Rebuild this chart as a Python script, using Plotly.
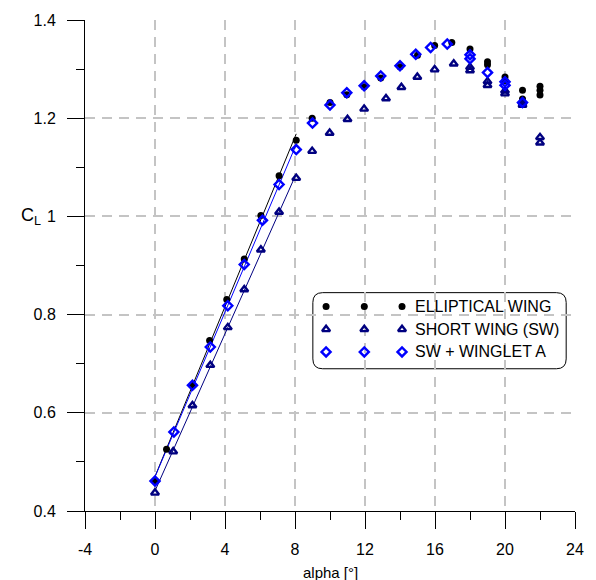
import numpy as np
import plotly.graph_objects as go

# Lift coefficient vs angle of attack, three wing configurations
ell_alpha = [0, 0.66, 2.14, 3.12, 4.1, 5.1, 6.05, 7.09, 8.07, 8.98, 10.0, 10.96, 11.95,
             12.9, 14.0, 15.0, 15.98, 16.96, 18.0, 19.0, 19.0, 20.0, 20.0, 21.0, 21.0,
             22.0, 22.0, 22.0]
ell_cl = [0.461, 0.526, 0.656, 0.747, 0.831, 0.913, 1.002, 1.083, 1.155, 1.200, 1.232,
          1.248, 1.264, 1.282, 1.305, 1.328, 1.348, 1.354, 1.341, 1.315, 1.309, 1.284,
          1.277, 1.257, 1.239, 1.265, 1.257, 1.247]

sw_alpha = [0, 1.04, 2.14, 3.16, 4.16, 5.1, 6.05, 7.09, 8.07, 8.98, 9.98, 11.0, 11.95,
            13.2, 14.08, 14.99, 15.98, 17.07, 18.0, 18.0, 19.0, 19.0, 20.0, 20.0, 21.0,
            21.0, 22.0, 22.0]
sw_cl = [0.437, 0.521, 0.615, 0.697, 0.774, 0.851, 0.932, 1.009, 1.078, 1.133, 1.170,
         1.198, 1.219, 1.240, 1.263, 1.284, 1.299, 1.311, 1.304, 1.297, 1.275, 1.267,
         1.256, 1.250, 1.232, 1.227, 1.161, 1.150]

wl_alpha = [0, 1.08, 2.14, 3.16, 4.16, 5.1, 6.14, 7.09, 8.07, 9.0, 10.0, 10.96, 11.95,
            12.9, 14.0, 14.9, 15.75, 16.7, 18.0, 18.0, 19.0, 20.0, 20.0, 21.0]
wl_cl = [0.461, 0.561, 0.656, 0.734, 0.818, 0.902, 0.992, 1.065, 1.136, 1.190, 1.227,
         1.252, 1.266, 1.286, 1.307, 1.330, 1.344, 1.351, 1.329, 1.321, 1.293, 1.274,
         1.267, 1.232]

series_names = ["ELLIPTICAL WING", "SHORT WING (SW)", "SW + WINGLET A"]
x_ticks = [-4, 0, 4, 8, 12, 16, 20, 24]
x_tick_text = ["-4", "0", "4", "8", "12", "16", "20", "24"]
y_ticks = [0.4, 0.6, 0.8, 1.0, 1.2, 1.4]
y_tick_text = ["0.4", "0.6", "0.8", "1", "1.2", "1.4"]

FONT = "Liberation Sans, Arial, sans-serif"
NAVY = "#000080"
BLUE = "#0000FF"

styles = [
    dict(color="black", symbol="circle", size=7, line=dict(width=0, color="black")),
    dict(color=NAVY, symbol="triangle-up-open", size=7, line=dict(width=2.4, color=NAVY)),
    dict(color=BLUE, symbol="diamond-open", size=7, line=dict(width=2.4, color=BLUE)),
]
data = [(ell_alpha, ell_cl), (sw_alpha, sw_cl), (wl_alpha, wl_cl)]

fig = go.Figure()

# linear fit through the attached-flow range
for (a, c), st in zip(data, styles):
    a = np.array(a)
    c = np.array(c)
    m = a <= 8.1
    k, b = np.polyfit(a[m], c[m], 1)
    xs = np.array([0.0, a[m].max()])
    fig.add_trace(go.Scatter(x=xs, y=k * xs + b, mode="lines",
                             line=dict(color=st["color"], width=1),
                             showlegend=False, hoverinfo="skip"))

for (a, c), st, name in zip(data, styles, series_names):
    fig.add_trace(go.Scatter(x=a, y=c, mode="markers", name=name, marker=st,
                             showlegend=False, cliponaxis=False))

# legend drawn on a unit overlay axis
leg_x = [0.492, 0.570, 0.647]
leg_y = [0.4165, 0.370, 0.324]
for st, yy, name in zip(styles, leg_y, series_names):
    fig.add_trace(go.Scatter(x=leg_x, y=[yy] * 3, mode="markers", marker=st,
                             xaxis="x2", yaxis="y2", showlegend=False,
                             hoverinfo="skip", cliponaxis=False))
    fig.add_annotation(x=0.670, y=yy, xref="paper", yref="paper", text=name,
                       showarrow=False, xanchor="left", yanchor="middle",
                       font=dict(family=FONT, size=16, color="black"))

x0, x1, y0, y1 = 0.465, 0.982, 0.2897, 0.4447
rx, ry = 0.02, 0.02
path = (f"M {x0+rx},{y0} L {x1-rx},{y0} Q {x1},{y0} {x1},{y0+ry} "
        f"L {x1},{y1-ry} Q {x1},{y1} {x1-rx},{y1} L {x0+rx},{y1} "
        f"Q {x0},{y1} {x0},{y1-ry} L {x0},{y0+ry} Q {x0},{y0} {x0+rx},{y0} Z")
fig.add_shape(type="path", path=path, xref="paper", yref="paper",
              line=dict(color="black", width=1), fillcolor="white", layer="below")

fig.add_annotation(x=-0.11, y=1.0, xref="paper", yref="y", text="C<sub>L</sub>",
                   showarrow=False, xanchor="center", yanchor="middle",
                   font=dict(family=FONT, size=18, color="black"))
fig.add_annotation(x=0.5, y=-0.1247, xref="paper", yref="paper", text="alpha [°]",
                   showarrow=False, xanchor="center", yanchor="middle",
                   font=dict(family=FONT, size=15, color="black"))

grid = dict(showgrid=True, gridcolor="#c4c4c4", gridwidth=1.5, griddash="10px,7px")

fig.update_layout(
    width=596, height=580,
    margin=dict(l=84.5, r=18, t=14, b=69),
    paper_bgcolor="white", plot_bgcolor="white",
    font=dict(family=FONT, size=16, color="black"),
    xaxis=dict(range=[-4, 24], tickvals=x_ticks, ticktext=x_tick_text,
               ticks="outside", ticklen=17,
               tickwidth=1, tickcolor="black", showline=True, linecolor="black",
               linewidth=1, zeroline=False, ticklabelstandoff=7,
               tickfont=dict(family=FONT, size=16),
               minor=dict(dtick=2, tick0=-4, ticks="outside", ticklen=8,
                          tickcolor="black", showgrid=False),
               **grid),
    yaxis=dict(range=[0.4, 1.4], tickvals=y_ticks, ticktext=y_tick_text,
               ticks="outside", ticklen=17, tickwidth=1, tickcolor="black",
               showline=True, linecolor="black", linewidth=1, zeroline=False,
               ticklabelstandoff=8, tickfont=dict(family=FONT, size=16),
               minor=dict(dtick=0.1, tick0=0.4, ticks="outside", ticklen=8,
                          tickcolor="black", showgrid=False),
               **grid),
    xaxis2=dict(range=[0, 1], overlaying="x", visible=False),
    yaxis2=dict(range=[0, 1], overlaying="y", visible=False),
)

fig.write_html("out.html")
